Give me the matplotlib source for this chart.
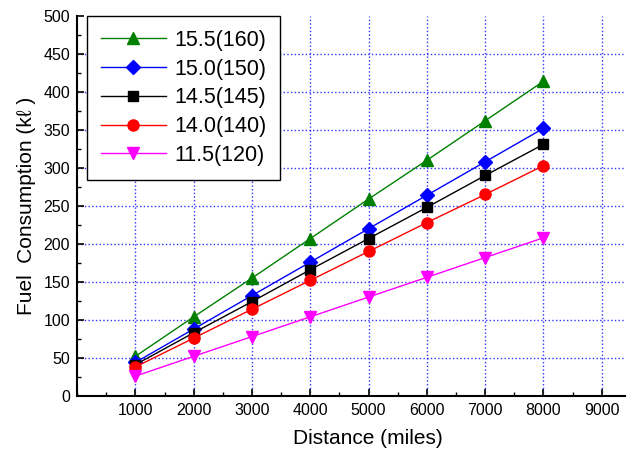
import matplotlib
matplotlib.use("Agg")
import matplotlib.pyplot as plt
from matplotlib.ticker import MultipleLocator

plt.rcParams['font.family'] = ['Liberation Sans', 'DejaVu Sans']

distance = [1000, 2000, 3000, 4000, 5000, 6000, 7000, 8000]
labels = ["15.5(160)", "15.0(150)", "14.5(145)", "14.0(140)", "11.5(120)"]
s155 = [52, 104, 155, 207, 259, 310, 362, 414]
s150 = [44, 88, 132, 176, 220, 264, 308, 352]
s145 = [41, 83, 124, 166, 207, 248, 290, 331]
s140 = [38, 76, 114, 152, 190, 228, 265, 303]
s115 = [26, 52, 78, 104, 130, 156, 182, 208]
series = [s155, s150, s145, s140, s115]
colors = ['#008000', '#0000ff', '#000000', '#ff0000', '#ff00ff']
markers = ['^', 'D', 's', 'o', 'v']
msizes = [8, 7, 7, 8, 8]
xticks = [1000, 2000, 3000, 4000, 5000, 6000, 7000, 8000, 9000]
yticks = [0, 50, 100, 150, 200, 250, 300, 350, 400, 450, 500]

fig = plt.figure(figsize=(6.32, 4.55), dpi=100)
ax = fig.add_axes([0.122, 0.130, 0.867, 0.835])

for vals, c, m, ms, lab in zip(series, colors, markers, msizes, labels):
    ax.plot(distance, vals, color=c, marker=m, markersize=ms, linewidth=1.0, label=lab)

ax.set_xlim(0, 9400)
ax.set_ylim(0, 500)
ax.set_xticks(xticks)
ax.set_yticks(yticks)
ax.xaxis.set_minor_locator(MultipleLocator(500))
ax.yaxis.set_minor_locator(MultipleLocator(25))
ax.tick_params(which='major', direction='in', length=5, width=1.2, labelsize=11.5, pad=5)
ax.tick_params(which='minor', direction='in', length=3, width=1.0)
for s in ['top', 'right']:
    ax.spines[s].set_visible(False)
for s in ['left', 'bottom']:
    ax.spines[s].set_linewidth(1.5)

ax.grid(True, which='major', color='#0000ff', linestyle=':', linewidth=1.0, alpha=0.8)
ax.set_axisbelow(True)
ax.get_ygridlines()[-1].set_visible(False)

ax.set_xlabel("Distance (miles)", fontsize=15)
ax.xaxis.set_label_coords(0.53, -0.088)
ax.set_ylabel("Fuel  Consumption (k\u2113 )", fontsize=15, labelpad=5)

leg = ax.legend(loc='upper left', bbox_to_anchor=(0.018, 1.0), borderaxespad=0,
                fontsize=15.5, frameon=True, fancybox=False, edgecolor='black',
                framealpha=1, handlelength=3.0, handletextpad=0.4,
                borderpad=0.65, labelspacing=0.36)
leg.get_frame().set_linewidth(1.0)

fig.savefig("out.png", dpi=100)
